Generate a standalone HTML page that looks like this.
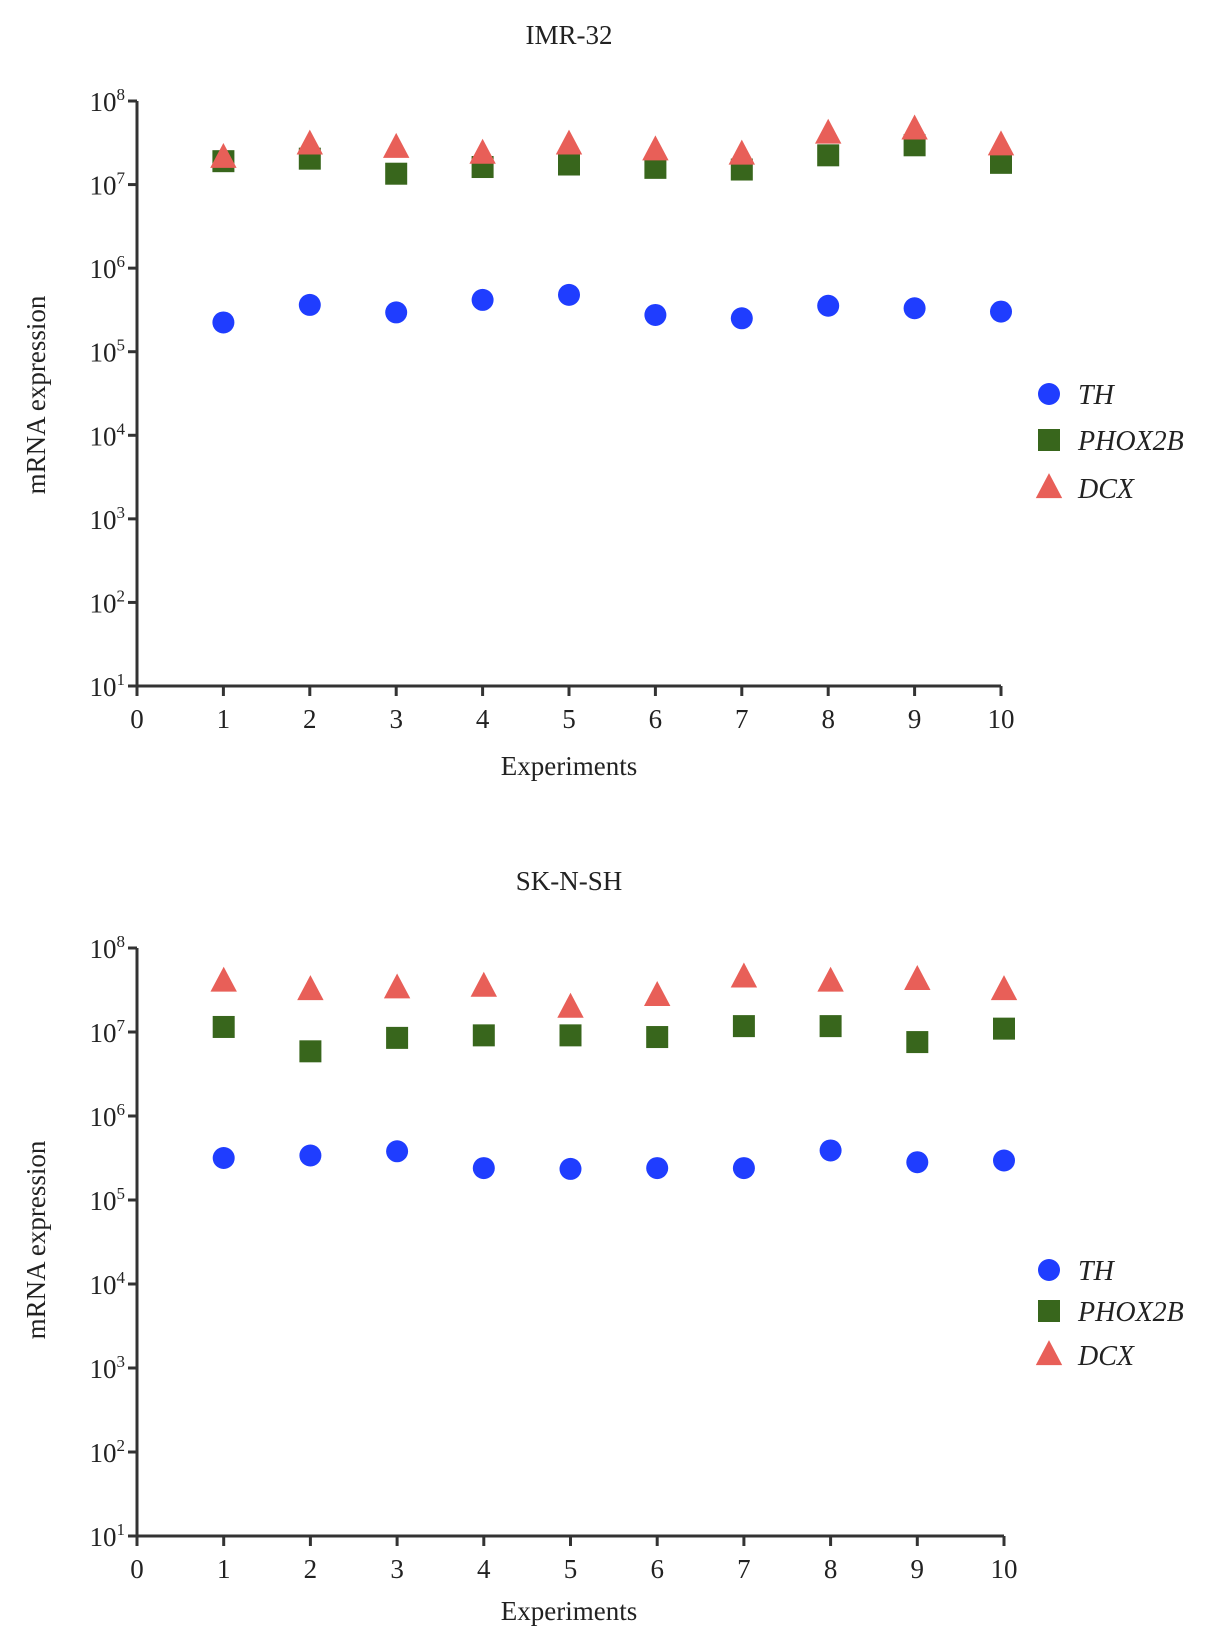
<!DOCTYPE html>
<html><head><meta charset="utf-8"><style>
body{margin:0;background:#fff}
svg text{font-family:"Liberation Serif",serif;fill:#222}
</style></head><body>
<svg id="svg" width="1205" height="1644" viewBox="0 0 1205 1644" xmlns="http://www.w3.org/2000/svg"></svg>
<script>
const experiments=[1,2,3,4,5,6,7,8,9,10];
const xTicks=[0,1,2,3,4,5,6,7,8,9,10];
const yTicks=[1,2,3,4,5,6,7,8];
const imrTH=[5.35,5.56,5.47,5.62,5.68,5.44,5.40,5.55,5.52,5.48];
const imrPHOX2B=[7.28,7.31,7.13,7.21,7.24,7.20,7.18,7.35,7.47,7.26];
const imrDCX=[7.32,7.48,7.44,7.37,7.48,7.41,7.36,7.61,7.66,7.47];
const skTH=[5.50,5.53,5.58,5.38,5.37,5.38,5.38,5.59,5.45,5.47];
const skPHOX2B=[7.06,6.77,6.93,6.96,6.96,6.94,7.07,7.07,6.88,7.04];
const skDCX=[7.60,7.50,7.52,7.54,7.29,7.43,7.65,7.60,7.62,7.50];
const NS="http://www.w3.org/2000/svg";
const svg=document.getElementById('svg');
function mk(tag,attrs,parent){const e=document.createElementNS(NS,tag);for(const k in attrs)e.setAttribute(k,attrs[k]);(parent||svg).appendChild(e);return e;}
function chart(cfg){
  const g=mk('g',{});
  
  
  const x0=137,x1=cfg.x10,yTop=cfg.yTop,yBot=cfg.yBot;
  const sx=v=>x0+(x1-x0)*v/10;
  const sy=v=>yBot-(yBot-yTop)*(v-1)/7;
  const t=mk('text',{x:569,y:cfg.titleY,'text-anchor':'middle','font-size':27},g);t.textContent=cfg.title;
  
  
  const ax=mk('path',{d:`M${x0},${yTop}V${yBot}H${x1}`,stroke:'#333','stroke-width':3,fill:'none'},g);
  
  
  yTicks.forEach(v=>{
    mk('line',{x1:x0-9,x2:x0,y1:sy(v),y2:sy(v),stroke:'#333','stroke-width':3},g);
    const tx=mk('text',{x:x0-12,y:sy(v)+10,'text-anchor':'end','font-size':27},g);
    tx.innerHTML='10<tspan dy="-11" font-size="17">'+v+'</tspan>';
    
    
  });
  xTicks.forEach(v=>{
    mk('line',{x1:sx(v),x2:sx(v),y1:yBot,y2:yBot+10,stroke:'#333','stroke-width':3},g);
    const tx=mk('text',{x:sx(v),y:yBot+42,'text-anchor':'middle','font-size':27},g);tx.textContent=v;
    
    
  });
  const xl=mk('text',{x:569,y:cfg.xlabY,'text-anchor':'middle','font-size':27},g);xl.textContent='Experiments';
  
  
  const yl=mk('text',{x:0,y:0,'text-anchor':'middle','font-size':27,transform:`translate(45,${cfg.ylabY}) rotate(-90)`},g);yl.textContent='mRNA expression';
  
  
  const tri=(cx,cy,s)=>`M${cx},${cy-s*0.62}L${cx+s*0.55},${cy+s*0.42}L${cx-s*0.55},${cy+s*0.42}Z`;
  experiments.forEach((e,i)=>{
    const q=mk('rect',{x:sx(e)-11,y:sy(cfg.phox[i])-11,width:22,height:22,fill:'#38661c'},g);
    
    
  });
  experiments.forEach((e,i)=>{
    const p=mk('path',{d:tri(sx(e),sy(cfg.dcx[i]),24),fill:'#e85f58'},g);
    
    
  });
  experiments.forEach((e,i)=>{
    const c=mk('circle',{cx:sx(e),cy:sy(cfg.th[i]),r:11,fill:'#1f3dff'},g);
    
    
  });
  const L=cfg.leg;
  const lg=mk('g',{},g);
  
  
  mk('circle',{cx:1049,cy:L[0],r:11,fill:'#1f3dff'},lg);
  mk('rect',{x:1038,y:L[1]-11,width:22,height:22,fill:'#38661c'},lg);
  mk('path',{d:tri(1049,L[2],24),fill:'#e85f58'},lg);
  ['TH','PHOX2B','DCX'].forEach((n,i)=>{
    const tx=mk('text',{x:1078,y:L[i]+10,'font-size':28,'font-style':'italic'},lg);tx.textContent=n;
    
    
  });
}
chart({name:'imr32-chart',title:'IMR-32',titleY:44,x10:1001,yTop:101,yBot:686,xlabY:775,ylabY:395,th:imrTH,phox:imrPHOX2B,dcx:imrDCX,leg:[394,440,488]});
chart({name:'sknsh-chart',title:'SK-N-SH',titleY:890,x10:1004,yTop:948,yBot:1536,xlabY:1620,ylabY:1240,th:skTH,phox:skPHOX2B,dcx:skDCX,leg:[1270,1311,1355]});
</script>
</body></html>
